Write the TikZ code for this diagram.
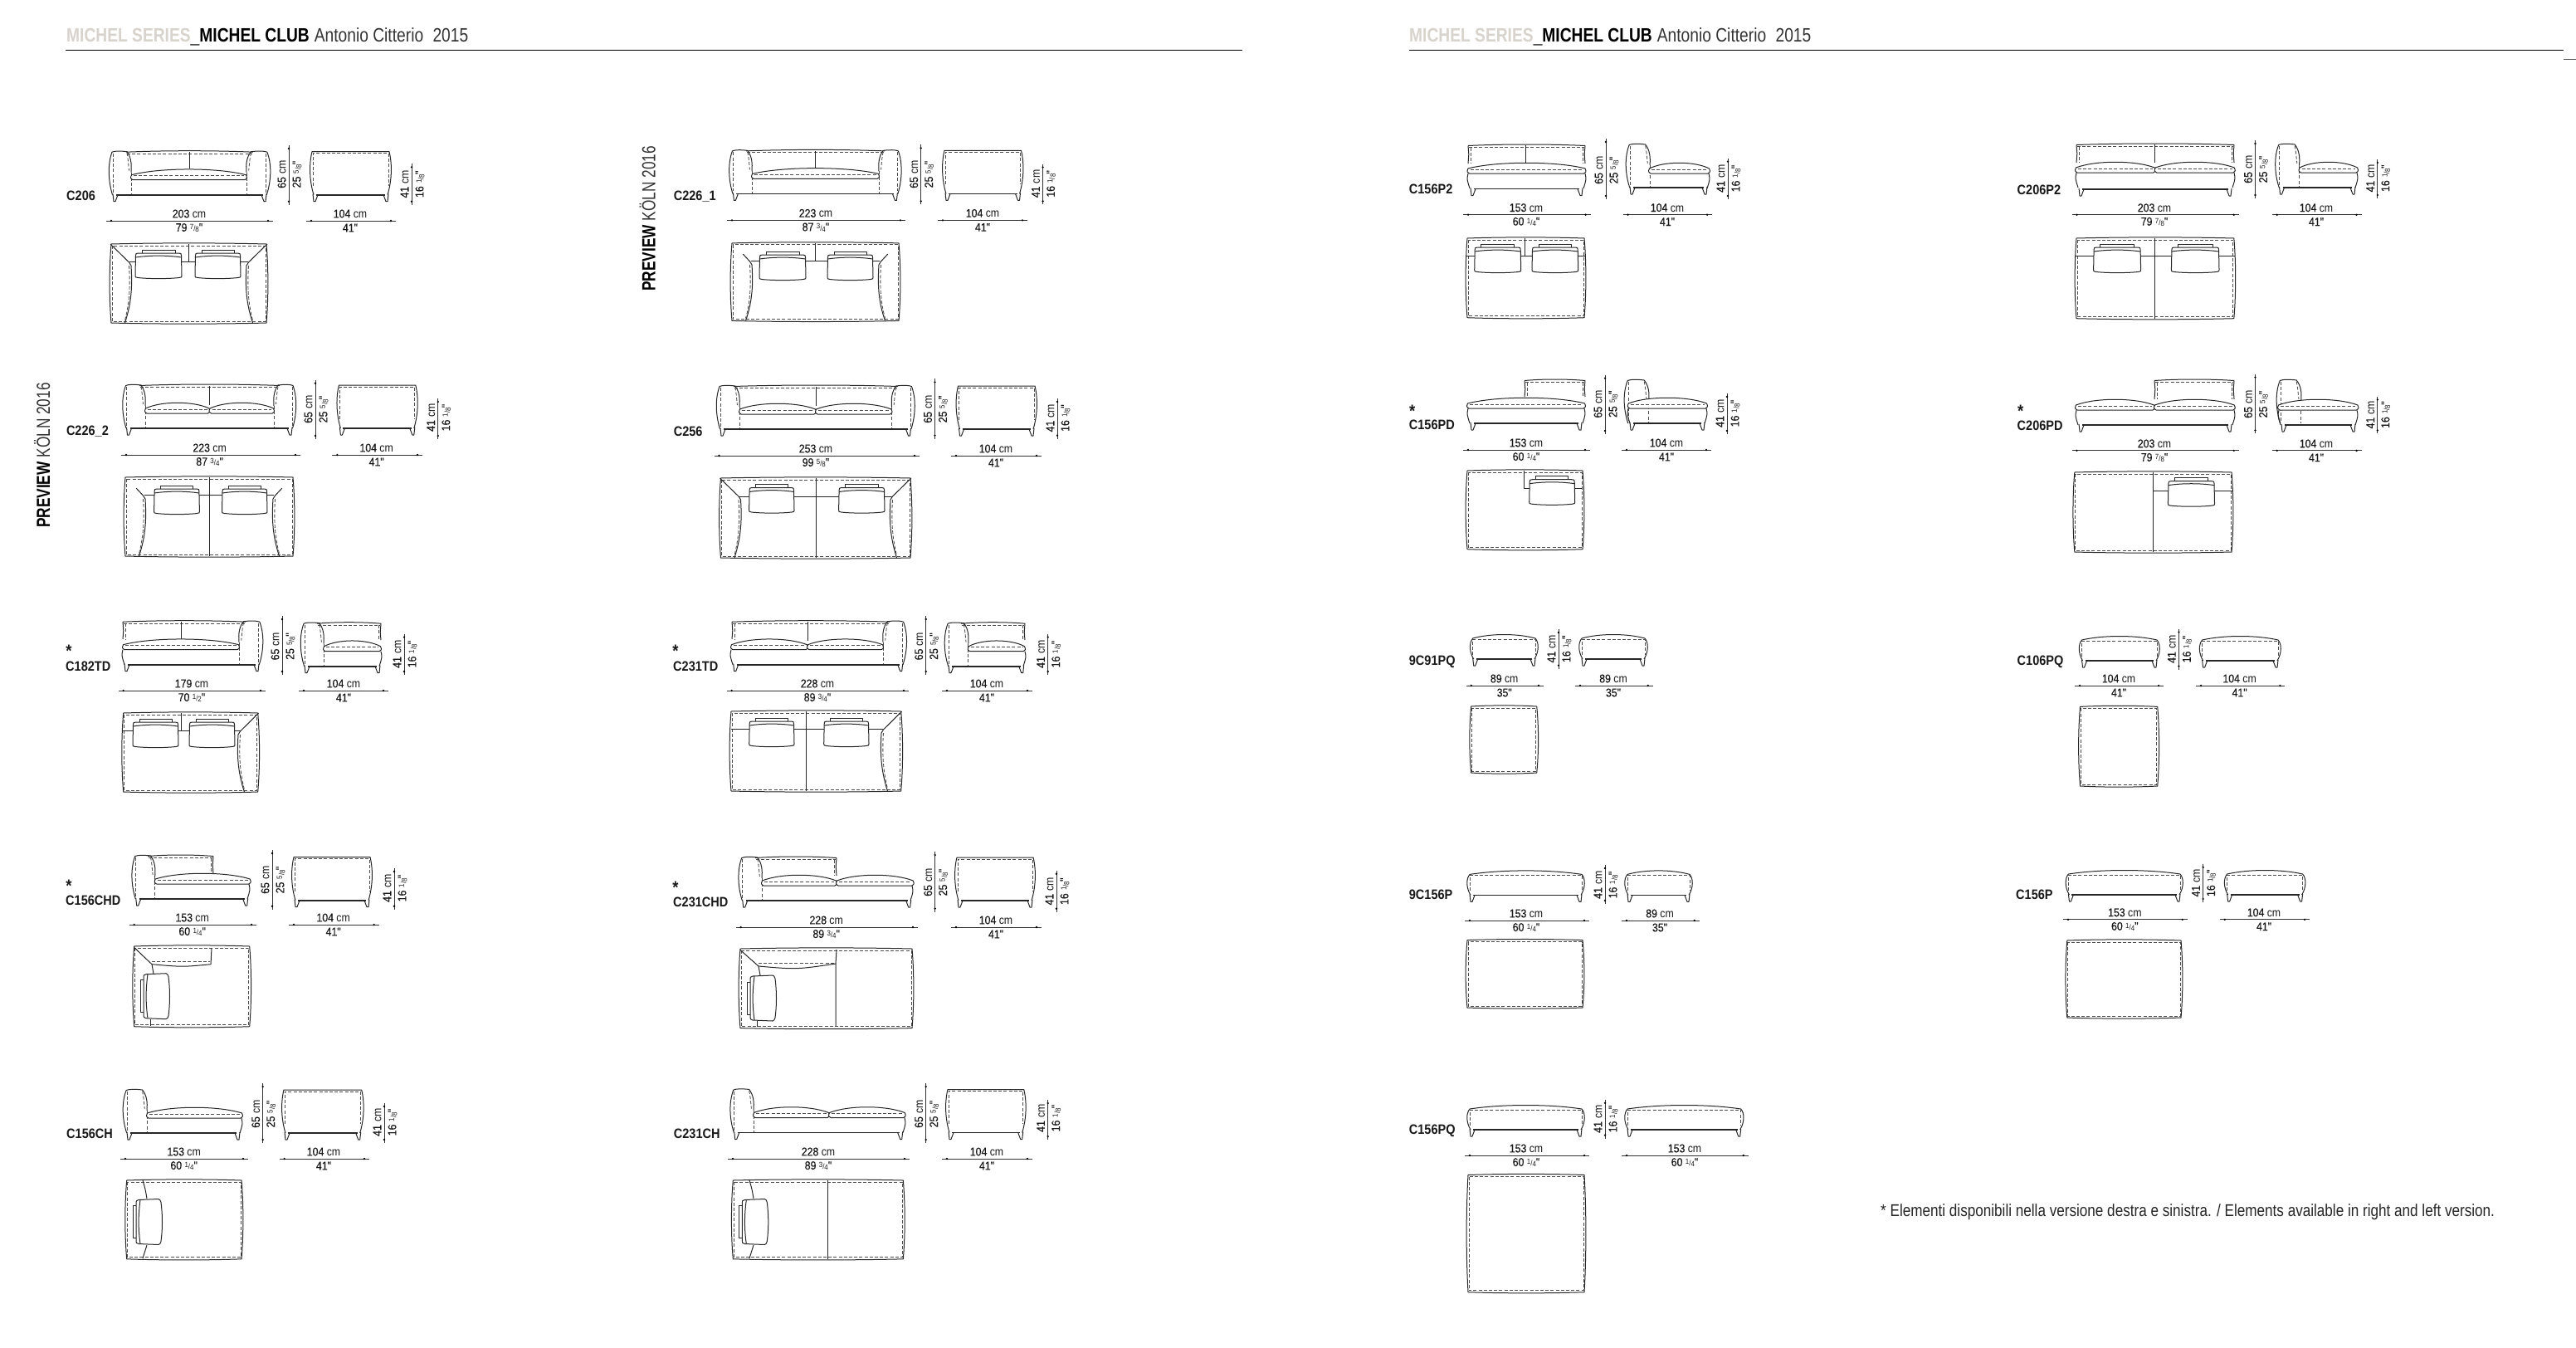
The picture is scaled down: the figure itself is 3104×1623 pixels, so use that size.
\documentclass[tikz,border=0pt]{standalone}
\usepackage{fontspec}
\usepackage{tikz}
\usetikzlibrary{calc}
\setmainfont[FakeStretch=.88]{Liberation Sans}
\newfontfamily\headfont[FakeStretch=.825]{Liberation Sans}
\newfontfamily\previewfont[FakeStretch=.76]{Liberation Sans}
\newfontfamily\notefont[FakeStretch=.835]{Liberation Sans}
\newfontfamily\digfont[FakeStretch=.88,FakeBold=.3]{Liberation Sans}

\tikzset{sofa/.style={line width=1pt, draw=black!85, line join=round},
  hidden/.style={line width=.85pt, draw=black!70, dash pattern=on 4pt off 2.2pt},
  dimline/.style={line width=.9pt, draw=black!80},
  headrule/.style={line width=1.3pt, draw=black},
  dimtext/.style={inner sep=0, font=\fontsize{14}{14}\selectfont, text=black!90},
  itemlabel/.style={inner sep=0, anchor=base west, font=\fontsize{16.5}{16.5}\selectfont\bfseries, text=black!90},
  starmark/.style={inner sep=0, font=\fontsize{21}{21}\selectfont\bfseries, text=black!90},
  headline/.style={inner sep=0, anchor=base west, font=\fontsize{23.3}{23.3}\selectfont\headfont},
  previewtext/.style={inner sep=0, anchor=base west, rotate=90, font=\fontsize{22.7}{22.7}\selectfont\previewfont}}
\definecolor{serieshead}{HTML}{D8D3CC}

\newcommand{\dg}[1]{{\digfont #1}}
\newcommand{\frc}[2]{{\fontsize{9}{9}\selectfont\raisebox{2.5pt}{#1}/\raisebox{-1pt}{#2}}}
\newcommand{\inch}[3]{\dg{#1} \frc{#2}{#3}\dg{"}}

%% Dimensions
\newcommand{\HDim}[7]{
  \coordinate (#1a) at (#2,#4);
  \coordinate (#1b) at (#3,#4);
  \draw[dimline] (#1a) -- (#1b);
  \fill[black] (#2+6,#4) circle (1.3);
  \fill[black] (#3-6,#4) circle (1.3);
  \node[dimtext] (#1cm) at (#5,#4-8.5) {\dg{#6} cm};
  \node[dimtext] (#1in) at (#5,#4+8.5) {#7};
}
\newcommand{\VDim}[7]{
  \coordinate (#1a) at (#2,#3);
  \coordinate (#1b) at (#2,#4);
  \draw[dimline] (#1a) -- (#1b);
  \fill[black] (#2,#3+4) circle (1.3);
  \fill[black] (#2,#4-4) circle (1.3);
  \node[dimtext, rotate=90] (#1cm) at (#2-8.5,#5) {\dg{#6} cm};
  \node[dimtext, rotate=90] (#1in) at (#2+10,#5) {#7};
}

%% Front and side views
\newcommand{\BaseF}[3]{
  \draw[sofa, line width=1.6pt] (#1+7,#3) -- (#2-7,#3);
  \draw[sofa] (#1+3,#3-1) -- (#1+4,#3+8) -- (#1+6,#3+8) -- (#1+9,#3);
  \draw[sofa] (#2-3,#3-1) -- (#2-4,#3+8) -- (#2-6,#3+8) -- (#2-9,#3);
}
\newcommand{\ArmF}[3]{
  \pgfmathsetmacro{\dW}{#2-#1}
  \draw[sofa] (#1+.1*\dW,#3+53) .. controls (#1-.12*\dW,#3+35) and (#1-.12*\dW,#3+15) .. (#1+.08*\dW,#3+1.5)
    .. controls (#1+.2*\dW,#3) and (#1+.5*\dW,#3) .. (#1+.8*\dW,#3+1)
    .. controls (#2,#3+8) and (#2+.03*\dW,#3+16) .. (#2,#3+26);
  \draw[hidden] (#1+.12*\dW,#3+3) -- (#1+.12*\dW,#3+50);
  \draw[hidden] (#2,#3+26) -- (#2,#3+53);
  \draw[hidden] (#1+.8*\dW,#3+2.5) .. controls (#2-.15*\dW,#3+10) .. (#2-.1*\dW,#3+24);
}
\newcommand{\BackF}[3]{
  \pgfmathsetmacro{\dW}{#2-#1}
  \draw[sofa] (#1,#3+1.5) .. controls (#1+.3*\dW,#3-.5) and (#2-.3*\dW,#3-.5) .. (#2,#3+1.5);
  \draw[hidden] (#1+1,#3+3.5) -- (#2-1,#3+3.5);
}
\newcommand{\EdgeF}[4]{
  \draw[sofa] (#1,#3+1.5) -- (#1+#2*.8,#3+12) -- (#1,#4);
  \draw[hidden] (#1+#2*3,#3+3.5) -- (#1+#2*3,#4);
}
\newcommand{\SeatF}[3]{
  \pgfmathsetmacro{\dW}{#2-#1}
  \draw[sofa, fill=white] (#1+.5,#3+29) .. controls (#1+.25*\dW,#3+20) and (#2-.25*\dW,#3+20) .. (#2-.5,#3+29)
    .. controls (#2+1,#3+33) .. (#2-2,#3+35) -- (#1+2,#3+35) .. controls (#1-1,#3+33) .. cycle;
  \draw[hidden] (#1+3,#3+30) -- (#2-3,#3+30);
}
\newcommand{\EndF}[3]{
  \draw[sofa] (#1,#3+35) .. controls (#1+#2*1.5,#3+42) .. (#1-#2*2,#3+53);
}
\newcommand{\SideF}[3]{
  \draw[sofa] (#1+4,#3+53) .. controls (#1-1.5,#3+35) and (#1-1.5,#3+15) .. (#1+2,#3+1) -- (#2-2,#3+1)
    .. controls (#2+1.5,#3+15) and (#2+1.5,#3+35) .. (#2-4,#3+53);
  \draw[hidden] (#1+3,#3+42) -- (#1+3,#3+3) -- (#2-3,#3+3) -- (#2-3,#3+42);
  \BaseF{#1}{#2}{#3+53}
}
\newcommand{\OttoF}[3]{
  \pgfmathsetmacro{\dW}{#2-#1}
  \draw[sofa] (#1+4,#3+31) .. controls (#1-1.5,#3+22) and (#1-1.5,#3+11) .. (#1+3,#3+6)
    .. controls (#1+.3*\dW,#3) and (#2-.3*\dW,#3) .. (#2-3,#3+6)
    .. controls (#2+1.5,#3+11) and (#2+1.5,#3+22) .. (#2-4,#3+31);
  \draw[hidden] (#1+3,#3+26) -- (#1+3,#3+7) -- (#2-3,#3+7) -- (#2-3,#3+26);
  \BaseF{#1}{#2}{#3+31}
}

%% Plan views
\newcommand{\PlanBox}[4]{
  \pgfmathsetmacro{\dW}{#2-#1}
  \pgfmathsetmacro{\dH}{#4-#3}
  \draw[sofa] (#1+1,#3) .. controls (#1+.3*\dW,#3-1.5) and (#2-.3*\dW,#3-1.5) .. (#2-1,#3)
    .. controls (#2+1.5,#3+.3*\dH) and (#2+1.5,#3+.7*\dH) .. (#2-1,#4)
    .. controls (#2-.3*\dW,#4+1.5) and (#1+.3*\dW,#4+1.5) .. (#1+1,#4)
    .. controls (#1-1.5,#3+.7*\dH) and (#1-1.5,#3+.3*\dH) .. cycle;
  \draw[hidden] (#1+2,#3+2) rectangle (#2-2,#4-2);
}
\newcommand{\PillowP}[3]{
  \pgfmathsetmacro{\dW}{#2-#1}
  \draw[sofa] (#1+8,#3) -- (#1+8,#3-4) -- (#2-8,#3-4) -- (#2-8,#3);
  \draw[sofa, fill=white] (#1+.5,#3+3) .. controls (#1+.5,#3+.5) .. (#1+4,#3) -- (#2-4,#3)
    .. controls (#2-.5,#3+.5) .. (#2-.5,#3+3) -- (#2,#3+27) .. controls (#2,#3+29) .. (#2-3,#3+29.5)
    .. controls (#2-.3*\dW,#3+31) and (#1+.3*\dW,#3+31) .. (#1+3,#3+29.5) .. controls (#1,#3+29) .. (#1,#3+27) -- cycle;
  \draw[sofa] (#1+.5,#3+5) .. controls (#1+.3*\dW,#3+2.5) and (#2-.3*\dW,#3+2.5) .. (#2-.5,#3+5);
}
\newcommand{\PillowS}[2]{
  \draw[sofa] (#1,#2+8) -- (#1-4,#2+8) -- (#1-4,#2+47) -- (#1,#2+47);
  \draw[sofa, fill=white] (#1+3,#2+1) -- (#1+27,#2) .. controls (#1+29,#2+1) .. (#1+30,#2+4)
    .. controls (#1+32,#2+20) and (#1+32,#2+36) .. (#1+30,#2+51) .. controls (#1+29,#2+54) .. (#1+27,#2+55)
    -- (#1+3,#2+54) .. controls (#1,#2+53) .. (#1,#2+50) -- (#1,#2+5) .. controls (#1,#2+2) .. cycle;
  \draw[sofa] (#1+5,#2+1) .. controls (#1+2.5,#2+20) and (#1+2.5,#2+36) .. (#1+5,#2+54);
}
\newcommand{\ArmP}[5]{
  \pgfmathsetmacro{\dW}{#2-#1}
  \draw[sofa] (#1+#5*.95*\dW,#3+#5*22) -- (#1+.9*\dW,#3+22) -- (#2,#3+26)
    .. controls (#2+.06*\dW,#3+50) and (#2+.03*\dW,#3+70) .. (#2-.3*\dW,#4);
  \draw[hidden] (#2-.1*\dW,#3+26) .. controls (#2-.04*\dW,#3+50) and (#2-.07*\dW,#3+70) .. (#2-.3*\dW,#4-3);
}

\begin{document}
\begin{tikzpicture}[x=1pt, y=-1pt]
  \useasboundingbox (0,0) rectangle (3104,1623);
  \fill[white] (0,0) rectangle (3104,1623);

  %% Headers
  \node[headline] (headleft) at (80,50) {\textcolor{serieshead}{\textbf{MICHEL SERIES}}\textcolor{black!80}{\_}\textbf{MICHEL CLUB}\hspace{6pt}\textcolor{black!80}{Antonio Citterio\hspace{6pt} 2015}};
  \node[headline] (headright) at (1698,50) {\textcolor{serieshead}{\textbf{MICHEL SERIES}}\textcolor{black!80}{\_}\textbf{MICHEL CLUB}\hspace{6pt}\textcolor{black!80}{Antonio Citterio\hspace{6pt} 2015}};
  \coordinate (ruleAa) at (79,60.5);
  \coordinate (ruleAb) at (1497,60.5);
  \coordinate (ruleBa) at (1698,60.5);
  \coordinate (ruleBb) at (3089,60.5);
  \coordinate (ruleCa) at (3089,71);
  \coordinate (ruleCb) at (3104,71);
  \draw[headrule] (ruleAa) -- (ruleAb);
  \draw[headrule] (ruleBa) -- (ruleBb);
  \draw[line width=1pt, black!70] (ruleCa) -- (ruleCb);
  \node[previewtext] (previewA) at (60,636) {\textbf{PREVIEW} \textcolor{black!80}{KÖLN 2016}};
  \node[previewtext] (previewB) at (789.7,350.7) {\textbf{PREVIEW} \textcolor{black!80}{KÖLN 2016}};

  %% C206
  \node[itemlabel] (cA) at (80,241.7) {C206};
  \BackF{152}{305}{181.7}
  \draw[sofa] (228,183) -- (228,203);
  \ArmF{133}{158}{181.7}
  \ArmF{324}{297}{181.7}
  \SeatF{158}{297}{181.7}
  \BaseF{133}{324}{234.7}
  \SideF{374}{471}{181.7}
  \VDim{cAh}{348}{175}{246.7}{210}{65}{\inch{25}{5}{8}}
  \VDim{cAs}{496}{197.3}{246.7}{221.7}{41}{\inch{16}{1}{8}}
  \HDim{cAw}{128}{329}{266}{228}{203}{\inch{79}{7}{8}}
  \HDim{cAd}{369}{477}{266}{422}{104}{\dg{41"}}
  \PlanBox{133}{322}{294}{389}
  \draw[sofa] (227,294) -- (227,315);
  \draw[sofa] (156,315) -- (299,315);
  \ArmP{133}{158}{294}{389}{0}
  \ArmP{322}{297}{294}{389}{0}
  \PillowP{163}{219}{305}
  \PillowP{235}{290}{305}

  %% C226_1
  \node[itemlabel] (cB) at (811.6,241) {C226\_1};
  \BackF{899}{1066}{180.4}
  \draw[sofa] (982,182) -- (982,203);
  \ArmF{880.4}{906}{180.4}
  \ArmF{1084.4}{1059}{180.4}
  \SeatF{906}{1059}{180.4}
  \BaseF{880.4}{1084.4}{233.4}
  \SideF{1136}{1232.5}{180.4}
  \VDim{cBh}{1109.7}{174.3}{246.4}{210}{65}{\inch{25}{5}{8}}
  \VDim{cBs}{1256.6}{197.5}{246.4}{221.4}{41}{\inch{16}{1}{8}}
  \HDim{cBw}{876}{1091}{265.4}{983}{223}{\inch{87}{3}{4}}
  \HDim{cBd}{1130}{1238}{265.4}{1184}{104}{\dg{41"}}
  \PlanBox{881}{1084}{292.9}{386.4}
  \draw[sofa] (982.5,292.9) -- (982.5,314);
  \draw[sofa] (905,314) -- (1060,314);
  \ArmP{881}{906}{292.9}{386.4}{.6}
  \ArmP{1084}{1059}{292.9}{386.4}{.6}
  \PillowP{915}{971}{307}
  \PillowP{997}{1052}{307}

  %% C226_2
  \node[itemlabel] (cC) at (79.8,524) {C226\_2};
  \BackF{168}{337}{463}
  \draw[sofa] (252.5,465) -- (252.5,488);
  \ArmF{149.5}{175}{463}
  \ArmF{355}{330}{463}
  \SeatF{175}{252.5}{463}
  \SeatF{252.5}{330}{463}
  \BaseF{149.5}{355}{516}
  \SideF{406.4}{502.8}{463}
  \VDim{cCh}{380}{457.7}{529}{493}{65}{\inch{25}{5}{8}}
  \VDim{cCs}{527.8}{480}{529}{503}{41}{\inch{16}{1}{8}}
  \HDim{cCw}{146}{362}{548}{252.6}{223}{\inch{87}{3}{4}}
  \HDim{cCd}{400.3}{509}{548}{453.7}{104}{\dg{41"}}
  \PlanBox{150}{354}{575}{670}
  \draw[sofa] (252,575) -- (252,670);
  \draw[sofa] (174,596) -- (330,596);
  \ArmP{150}{175}{575}{670}{.6}
  \ArmP{354}{329}{575}{670}{.6}
  \PillowP{185.6}{240.4}{589}
  \PillowP{267.5}{322}{589}

  %% C256
  \node[itemlabel] (cD) at (811.6,525) {C256};
  \BackF{884}{1082}{464}
  \draw[sofa] (983,466) -- (983,489);
  \ArmF{865}{891}{464}
  \ArmF{1100.5}{1074.5}{464}
  \SeatF{891}{983}{464}
  \SeatF{983}{1074.5}{464}
  \BaseF{865}{1100.5}{517}
  \SideF{1152.5}{1249}{464}
  \VDim{cDh}{1126.5}{456.4}{528.6}{492.9}{65}{\inch{25}{5}{8}}
  \VDim{cDs}{1274}{480}{528.6}{503.6}{41}{\inch{16}{1}{8}}
  \HDim{cDw}{860.5}{1108}{549}{983}{253}{\inch{99}{5}{8}}
  \HDim{cDd}{1146}{1255}{549}{1200}{104}{\dg{41"}}
  \PlanBox{867.5}{1098}{576}{672}
  \draw[sofa] (983,576) -- (983,672);
  \draw[sofa] (890,598) -- (1075,598);
  \ArmP{867.5}{892.5}{576}{672}{0}
  \ArmP{1098}{1073}{576}{672}{0}
  \PillowP{902.6}{957}{587.5}
  \PillowP{1010.6}{1066}{587.5}

  %% C182TD
  \node[starmark] (cEstar) at (83,784) {*};
  \node[itemlabel] (cE) at (79,808) {C182TD};
  \BackF{148}{296}{747.7}
  \EdgeF{148}{1}{747.7}{770}
  \draw[sofa] (218,749) -- (218,770);
  \ArmF{315}{288}{747.7}
  \SeatF{148}{288}{747.7}
  \EndF{148}{-1}{747.7}
  \BaseF{147}{315}{800.7}
  \BackF{382}{459}{749.7}
  \EdgeF{459}{-1}{749.7}{771}
  \ArmF{364}{390}{749.7}
  \SeatF{390}{459}{749.7}
  \EndF{459}{1}{749.7}
  \BaseF{364}{461}{802.7}
  \VDim{cEh}{340}{742}{813}{778.5}{65}{\inch{25}{5}{8}}
  \VDim{cEs}{487}{763.6}{813}{788}{41}{\inch{16}{1}{8}}
  \HDim{cEw}{142.7}{320}{832}{231}{179}{\inch{70}{1}{2}}
  \HDim{cEd}{360}{468}{832}{414}{104}{\dg{41"}}
  \PlanBox{147.7}{311.7}{859}{954}
  \draw[sofa] (218,859) -- (218,880);
  \draw[sofa] (148,880) -- (290,880);
  \ArmP{311.7}{287}{859}{954}{0}
  \PillowP{160}{215}{870}
  \PillowP{228}{283}{870}

  %% C231TD
  \node[starmark] (cFstar) at (814,784) {*};
  \node[itemlabel] (cF) at (811,808) {C231TD};
  \BackF{882}{1072}{747.7}
  \EdgeF{882}{1}{747.7}{770}
  \draw[sofa] (973,749) -- (973,772);
  \ArmF{1090.7}{1064}{747.7}
  \SeatF{881}{973}{747.7}
  \SeatF{973}{1064}{747.7}
  \EndF{881}{-1}{747.7}
  \BaseF{880.7}{1090.7}{800.7}
  \BackF{1158}{1235}{749.7}
  \EdgeF{1235}{-1}{749.7}{771}
  \ArmF{1140}{1166.7}{749.7}
  \SeatF{1166.7}{1235}{749.7}
  \EndF{1235}{1}{749.7}
  \BaseF{1140}{1236.7}{802.7}
  \VDim{cFh}{1115.7}{742}{813}{778.5}{65}{\inch{25}{5}{8}}
  \VDim{cFs}{1262.7}{763.6}{813}{788}{41}{\inch{16}{1}{8}}
  \HDim{cFw}{875.7}{1095}{832}{985}{228}{\inch{89}{3}{4}}
  \HDim{cFd}{1135}{1244}{832}{1189}{104}{\dg{41"}}
  \PlanBox{880}{1086.7}{857}{953}
  \draw[sofa] (971.7,857) -- (971.7,953);
  \draw[sofa] (881,878) -- (1064,878);
  \ArmP{1086.7}{1062}{857}{953}{0}
  \PillowP{902.7}{957}{869}
  \PillowP{992.7}{1047}{869}

  %% C156CHD
  \node[starmark] (cGstar) at (83,1067) {*};
  \node[itemlabel] (cG) at (79,1090) {C156CHD};
  \BackF{178}{257}{1030}
  \EdgeF{257}{-1}{1030}{1053}
  \ArmF{160.7}{186.7}{1030}
  \SeatF{186.7}{301.7}{1030}
  \EndF{300}{1}{1030}
  \BaseF{160.7}{301.7}{1083}
  \SideF{352}{448}{1031.7}
  \VDim{cGh}{328}{1024}{1095.7}{1060}{65}{\inch{25}{5}{8}}
  \VDim{cGs}{475}{1046}{1095.7}{1070}{41}{\inch{16}{1}{8}}
  \HDim{cGw}{155.7}{309}{1114}{231.7}{153}{\inch{60}{1}{4}}
  \HDim{cGd}{348}{456.7}{1114}{401.7}{104}{\dg{41"}}
  \PlanBox{160.7}{301.7}{1140}{1236.7}
  \draw[sofa] (161.7,1141.5) -- (183,1161.7) -- (185,1173);
  \draw[sofa] (183,1161.7) .. controls (220,1165) .. (254,1161.7) -- (255,1142);
  \draw[hidden] (183,1158) -- (253,1158);
  \draw[sofa] (181,1228) -- (181,1236);
  \PillowS{173}{1172.7}

  %% C156CH
  \node[itemlabel] (cH) at (80,1371.6) {C156CH};
  \ArmF{150}{177}{1312}
  \SeatF{177}{292}{1312}
  \EndF{291}{1}{1312}
  \BaseF{150}{292}{1365}
  \SideF{340}{437.7}{1312}
  \VDim{cHh}{316.7}{1305}{1377}{1342}{65}{\inch{25}{5}{8}}
  \VDim{cHs}{463}{1329}{1377}{1352}{41}{\inch{16}{1}{8}}
  \HDim{cHw}{145}{299}{1396}{221.7}{153}{\inch{60}{1}{4}}
  \HDim{cHd}{336.7}{445}{1396}{390}{104}{\dg{41"}}
  \PlanBox{151.7}{292}{1422}{1516.8}
  \draw[sofa] (172,1422) .. controls (175,1432) .. (177,1444);
  \draw[sofa] (177,1500) .. controls (175,1508) .. (172,1516);
  \PillowS{164}{1444.5}

  %% C231CHD
  \node[starmark] (cIstar) at (814,1069) {*};
  \node[itemlabel] (cI) at (811,1092) {C231CHD};
  \BackF{910}{1008}{1032}
  \EdgeF{1008}{-1}{1032}{1055}
  \ArmF{891.7}{918}{1032}
  \SeatF{918}{1008}{1032}
  \SeatF{1008}{1100.7}{1032}
  \EndF{1099}{1}{1032}
  \BaseF{891.7}{1100.7}{1085}
  \SideF{1151}{1247}{1032}
  \VDim{cIh}{1126.7}{1026}{1098.7}{1063}{65}{\inch{25}{5}{8}}
  \VDim{cIs}{1273}{1048.7}{1098.7}{1073.7}{41}{\inch{16}{1}{8}}
  \HDim{cIw}{886.7}{1106}{1117}{995.7}{228}{\inch{89}{3}{4}}
  \HDim{cId}{1146}{1255}{1117}{1200}{104}{\dg{41"}}
  \PlanBox{891}{1100}{1143}{1238.6}
  \draw[sofa] (892,1144.5) -- (914,1164) -- (916,1175);
  \draw[sofa] (914,1164) .. controls (960,1168) .. (1007,1161) -- (1007,1236);
  \draw[sofa] (1007,1161) -- (1008,1144);
  \draw[hidden] (914,1160) -- (1005,1160);
  \draw[sofa] (912,1230) -- (912,1237);
  \PillowS{904}{1175}

  %% C231CH
  \node[itemlabel] (cJ) at (811.7,1371.6) {C231CH};
  \ArmF{881.7}{908}{1311.5}
  \SeatF{908}{999}{1311.5}
  \SeatF{999}{1090.7}{1311.5}
  \EndF{1090}{1}{1311.5}
  \BaseF{881.7}{1090.7}{1364.5}
  \SideF{1140}{1235.7}{1311.5}
  \VDim{cJh}{1115.7}{1305}{1377}{1342}{65}{\inch{25}{5}{8}}
  \VDim{cJs}{1262.7}{1325}{1373}{1347}{41}{\inch{16}{1}{8}}
  \HDim{cJw}{877}{1096}{1396}{986}{228}{\inch{89}{3}{4}}
  \HDim{cJd}{1135}{1244}{1396}{1189}{104}{\dg{41"}}
  \PlanBox{882.3}{1089.3}{1422}{1516.8}
  \draw[sofa] (997.3,1422) -- (997.3,1516.8);
  \draw[sofa] (903,1422) .. controls (906,1432) .. (908,1444);
  \draw[sofa] (908,1500) .. controls (906,1508) .. (903,1516);
  \PillowS{894.3}{1444.5}

  %% C156P2
  \node[itemlabel] (cK) at (1697.7,233.3) {C156P2};
  \BackF{1769}{1910}{174}
  \EdgeF{1769}{1}{174}{197}
  \EdgeF{1910}{-1}{174}{197}
  \draw[sofa] (1838,175) -- (1838,196);
  \SeatF{1768.5}{1910.5}{174}
  \EndF{1769}{-1}{174}
  \EndF{1910}{1}{174}
  \BaseF{1769}{1910}{227.5}
  \ArmF{1961}{1988}{173}
  \SeatF{1987}{2060}{174}
  \EndF{2059}{1}{174}
  \BaseF{1961}{2060}{226}
  \VDim{cKh}{1935}{167}{240}{205}{65}{\inch{25}{5}{8}}
  \VDim{cKs}{2082}{190.7}{240}{215}{41}{\inch{16}{1}{8}}
  \HDim{cKw}{1763}{1916.7}{258.7}{1839}{153}{\inch{60}{1}{4}}
  \HDim{cKd}{1955.7}{2063}{258.7}{2009}{104}{\dg{41"}}
  \PlanBox{1767}{1910}{287}{382.7}
  \draw[sofa] (1837,287) -- (1837,308);
  \draw[sofa] (1767,308) -- (1910,308);
  \PillowP{1776.7}{1832.7}{298}
  \PillowP{1846}{1901.7}{298}

  %% C156PD
  \node[starmark] (cLstar) at (1701.7,495) {*};
  \node[itemlabel] (cL) at (1697.7,517.7) {C156PD};
  \BackF{1837}{1910}{457}
  \EdgeF{1837}{1}{457}{478}
  \EdgeF{1910}{-1}{457}{478}
  \SeatF{1768}{1910}{457}
  \EndF{1769}{-1}{457}
  \EndF{1909}{1}{457}
  \BaseF{1769}{1909}{510}
  \ArmF{1959}{1986.7}{457}
  \SeatF{1961.7}{2057}{457}
  \EndF{1962}{-1}{457}
  \EndF{2056}{1}{457}
  \BaseF{1961}{2057}{510}
  \VDim{cLh}{1934}{451.7}{523}{486.7}{65}{\inch{25}{5}{8}}
  \VDim{cLs}{2081}{474}{523}{498}{41}{\inch{16}{1}{8}}
  \HDim{cLw}{1763}{1916}{542}{1839}{153}{\inch{60}{1}{4}}
  \HDim{cLd}{1954}{2062}{542}{2008}{104}{\dg{41"}}
  \PlanBox{1767}{1908}{567}{661.7}
  \draw[sofa] (1836,567) -- (1836,588) -- (1906,588);
  \PillowP{1842.7}{1897.7}{577.7}

  %% 9C91PQ
  \node[itemlabel] (cM) at (1697.7,801) {9C91PQ};
  \OttoF{1771.7}{1853}{763}
  \OttoF{1903}{1985}{763}
  \VDim{cMh}{1878}{758}{805.7}{781.7}{41}{\inch{16}{1}{8}}
  \HDim{cMw}{1766.7}{1860}{826}{1812.7}{89}{\dg{35"}}
  \HDim{cMd}{1898}{1991.7}{826}{1944}{89}{\dg{35"}}
  \PlanBox{1771.7}{1852.7}{851}{931}

  %% 9C156P
  \node[itemlabel] (cN) at (1697.7,1083) {9C156P};
  \OttoF{1768}{1909}{1047.4}
  \OttoF{1958}{2039}{1047.4}
  \VDim{cNh}{1934}{1042}{1089}{1066}{41}{\inch{16}{1}{8}}
  \HDim{cNw}{1765}{1915}{1109}{1839}{153}{\inch{60}{1}{4}}
  \HDim{cNd}{1954}{2047.7}{1109}{2000}{89}{\dg{35"}}
  \PlanBox{1767}{1908}{1132.6}{1214}

  %% C156PQ
  \node[itemlabel] (cO) at (1697.7,1366.7) {C156PQ};
  \OttoF{1768}{1909}{1330}
  \OttoF{1958}{2100.7}{1330}
  \VDim{cOh}{1934}{1324.8}{1371.5}{1348}{41}{\inch{16}{1}{8}}
  \HDim{cOw}{1765}{1915}{1392}{1839}{153}{\inch{60}{1}{4}}
  \HDim{cOd}{1954}{2106.7}{1392}{2030}{153}{\inch{60}{1}{4}}
  \PlanBox{1768}{1910}{1415.5}{1556.7}

  %% C206P2
  \node[itemlabel] (cP) at (2430.5,234) {C206P2};
  \BackF{2502}{2692}{173}
  \EdgeF{2502}{1}{173}{196}
  \EdgeF{2692}{-1}{173}{196}
  \draw[sofa] (2596.7,174) -- (2596.7,196);
  \SeatF{2501}{2596.7}{173}
  \SeatF{2596.7}{2692.8}{173}
  \EndF{2502}{-1}{173}
  \EndF{2692}{1}{173}
  \BaseF{2502}{2692}{228}
  \ArmF{2743.5}{2770.5}{173}
  \SeatF{2770.5}{2841}{173}
  \EndF{2840}{1}{173}
  \BaseF{2743.5}{2841}{226}
  \VDim{cPh}{2717.5}{169}{239}{204}{65}{\inch{25}{5}{8}}
  \VDim{cPs}{2864.8}{192}{239}{214.7}{41}{\inch{16}{1}{8}}
  \HDim{cPw}{2496.5}{2697.7}{258.8}{2596}{203}{\inch{79}{7}{8}}
  \HDim{cPd}{2737.7}{2845.5}{258.8}{2791}{104}{\dg{41"}}
  \PlanBox{2501}{2692.8}{287}{383.7}
  \draw[sofa] (2596.7,287) -- (2596.7,383.7);
  \draw[sofa] (2501,308.6) -- (2692.8,308.6);
  \PillowP{2522.6}{2579.6}{298}
  \PillowP{2616.4}{2674}{298}

  %% C206PD
  \node[starmark] (cQstar) at (2434.6,495) {*};
  \node[itemlabel] (cQ) at (2430.5,518) {C206PD};
  \BackF{2596}{2692}{457}
  \EdgeF{2596}{1}{457}{481}
  \EdgeF{2692}{-1}{457}{481}
  \SeatF{2501}{2596}{459}
  \SeatF{2596}{2692.8}{459}
  \EndF{2502}{-1}{459}
  \EndF{2692}{1}{459}
  \BaseF{2502}{2692}{512}
  \ArmF{2745}{2772.7}{457}
  \SeatF{2745}{2841.4}{459}
  \EndF{2746}{-1}{459}
  \EndF{2840}{1}{459}
  \BaseF{2746}{2841}{512}
  \VDim{cQh}{2717.5}{450.6}{522.4}{487}{65}{\inch{25}{5}{8}}
  \VDim{cQs}{2864.8}{477.5}{522.4}{499.6}{41}{\inch{16}{1}{8}}
  \HDim{cQw}{2496.5}{2697.7}{542.9}{2596}{203}{\inch{79}{7}{8}}
  \HDim{cQd}{2737.7}{2845.5}{542.9}{2791}{104}{\dg{41"}}
  \PlanBox{2498.8}{2690}{569}{665}
  \draw[sofa] (2594.4,569) -- (2594.4,665);
  \draw[sofa] (2594.4,591) -- (2690,591);
  \PillowP{2612.4}{2668.5}{579.6}

  %% C106PQ
  \node[itemlabel] (cR) at (2430.5,801.6) {C106PQ};
  \OttoF{2505.5}{2602}{765}
  \OttoF{2650.6}{2748}{765}
  \VDim{cRh}{2625.4}{757.6}{806.5}{782}{41}{\inch{16}{1}{8}}
  \HDim{cRw}{2500}{2607}{826}{2553}{104}{\dg{41"}}
  \HDim{cRd}{2646}{2753.4}{826}{2698.6}{104}{\dg{41"}}
  \PlanBox{2505.5}{2600.7}{851.4}{947}

  %% C156P
  \node[itemlabel] (cS) at (2429,1083) {C156P};
  \OttoF{2489.4}{2630}{1047}
  \OttoF{2680.6}{2777.6}{1047}
  \VDim{cSh}{2654.6}{1040.8}{1087}{1063.7}{41}{\inch{16}{1}{8}}
  \HDim{cSw}{2486}{2635.7}{1107.8}{2560.3}{153}{\inch{60}{1}{4}}
  \HDim{cSd}{2674.8}{2783}{1107.8}{2728}{104}{\dg{41"}}
  \PlanBox{2489.8}{2629}{1133}{1226}

  %% Note
  \node[inner sep=0, anchor=base west, font=\fontsize{20.5}{20.5}\selectfont\notefont, text=black!85] (note) at (2266,1465) {* Elementi disponibili nella versione destra e sinistra. / Elements available in right and left version.};
\end{tikzpicture}
\end{document}
